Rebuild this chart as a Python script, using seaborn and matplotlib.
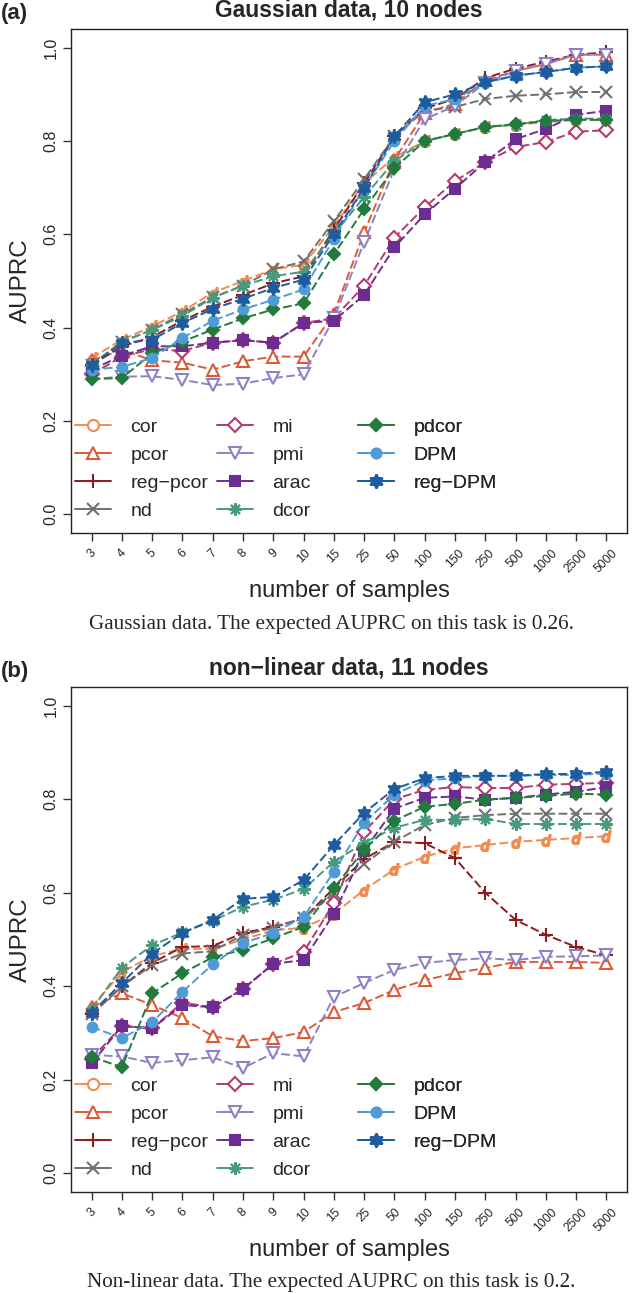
import matplotlib
matplotlib.use("Agg")
import matplotlib.pyplot as plt
import numpy as np
import pandas as pd
import seaborn as sns
from matplotlib.lines import Line2D

# ---------------- data ----------------
samples = ["3", "4", "5", "6", "7", "8", "9", "10", "15", "25", "50", "100",
           "150", "250", "500", "1000", "2500", "5000"]
methods = ["cor", "pcor", "reg\u2212pcor", "nd", "mi", "pmi", "arac", "dcor",
           "pdcor", "DPM", "reg\u2212DPM"]

# (a) Gaussian data, 10 nodes
g_cor = [0.335, 0.374, 0.403, 0.435, 0.475, 0.50, 0.525, 0.535, 0.617, 0.71, 0.765, 0.80, 0.815, 0.83, 0.835, 0.84, 0.845, 0.845]
g_pcor = [0.33, 0.352, 0.33, 0.325, 0.31, 0.328, 0.338, 0.338, 0.43, 0.604, 0.76, 0.86, 0.88, 0.93, 0.95, 0.965, 0.985, 0.985]
g_regpcor = [0.32, 0.36, 0.38, 0.415, 0.445, 0.47, 0.495, 0.51, 0.61, 0.71, 0.81, 0.87, 0.89, 0.935, 0.955, 0.97, 0.985, 0.99]
g_nd = [0.32, 0.37, 0.395, 0.43, 0.465, 0.49, 0.525, 0.542, 0.628, 0.718, 0.81, 0.865, 0.873, 0.89, 0.897, 0.90, 0.905, 0.905]
g_mi = [0.30, 0.338, 0.354, 0.35, 0.368, 0.373, 0.368, 0.41, 0.42, 0.49, 0.593, 0.658, 0.714, 0.755, 0.787, 0.798, 0.82, 0.823]
g_pmi = [0.29, 0.295, 0.296, 0.288, 0.277, 0.28, 0.292, 0.30, 0.42, 0.583, 0.74, 0.847, 0.875, 0.925, 0.95, 0.965, 0.985, 0.985]
g_arac = [0.31, 0.34, 0.36, 0.36, 0.368, 0.373, 0.368, 0.41, 0.415, 0.47, 0.572, 0.643, 0.698, 0.755, 0.804, 0.826, 0.856, 0.865]
g_dcor = [0.32, 0.37, 0.395, 0.425, 0.464, 0.49, 0.51, 0.52, 0.60, 0.68, 0.757, 0.80, 0.815, 0.83, 0.835, 0.845, 0.848, 0.848]
g_pdcor = [0.29, 0.292, 0.345, 0.37, 0.396, 0.42, 0.439, 0.452, 0.557, 0.654, 0.742, 0.80, 0.815, 0.83, 0.836, 0.843, 0.846, 0.845]
g_dpm = [0.31, 0.316, 0.335, 0.378, 0.415, 0.439, 0.46, 0.482, 0.59, 0.70, 0.80, 0.875, 0.89, 0.925, 0.94, 0.948, 0.957, 0.96]
g_regdpm = [0.32, 0.367, 0.374, 0.41, 0.44, 0.462, 0.485, 0.503, 0.60, 0.70, 0.81, 0.883, 0.90, 0.926, 0.94, 0.948, 0.957, 0.96]

# (b) non-linear data, 11 nodes
n_cor = [0.355, 0.43, 0.465, 0.48, 0.48, 0.50, 0.52, 0.525, 0.555, 0.606, 0.65, 0.677, 0.695, 0.702, 0.709, 0.713, 0.717, 0.721]
n_pcor = [0.355, 0.385, 0.36, 0.332, 0.293, 0.283, 0.289, 0.302, 0.345, 0.364, 0.392, 0.413, 0.428, 0.439, 0.452, 0.452, 0.452, 0.45]
n_regpcor = [0.34, 0.40, 0.45, 0.484, 0.486, 0.514, 0.527, 0.545, 0.61, 0.672, 0.709, 0.706, 0.674, 0.60, 0.542, 0.51, 0.484, 0.466]
n_nd = [0.34, 0.40, 0.445, 0.47, 0.475, 0.51, 0.525, 0.545, 0.60, 0.662, 0.709, 0.745, 0.76, 0.766, 0.769, 0.769, 0.769, 0.769]
n_mi = [0.245, 0.315, 0.31, 0.365, 0.355, 0.394, 0.448, 0.473, 0.578, 0.73, 0.80, 0.82, 0.826, 0.824, 0.824, 0.831, 0.833, 0.835]
n_pmi = [0.253, 0.25, 0.236, 0.242, 0.248, 0.225, 0.257, 0.25, 0.377, 0.407, 0.435, 0.45, 0.456, 0.46, 0.456, 0.463, 0.464, 0.466]
n_arac = [0.235, 0.315, 0.31, 0.36, 0.355, 0.394, 0.448, 0.456, 0.555, 0.69, 0.78, 0.803, 0.806, 0.799, 0.803, 0.81, 0.816, 0.826]
n_dcor = [0.35, 0.44, 0.488, 0.515, 0.54, 0.57, 0.585, 0.608, 0.666, 0.707, 0.739, 0.756, 0.756, 0.758, 0.747, 0.747, 0.747, 0.747]
n_pdcor = [0.249, 0.227, 0.385, 0.428, 0.462, 0.478, 0.503, 0.527, 0.61, 0.692, 0.754, 0.784, 0.79, 0.799, 0.803, 0.807, 0.812, 0.81]
n_dpm = [0.313, 0.289, 0.323, 0.388, 0.447, 0.492, 0.514, 0.548, 0.645, 0.75, 0.81, 0.84, 0.845, 0.85, 0.85, 0.852, 0.852, 0.855]
n_regdpm = [0.343, 0.407, 0.47, 0.514, 0.542, 0.587, 0.591, 0.627, 0.702, 0.771, 0.822, 0.845, 0.85, 0.85, 0.85, 0.854, 0.854, 0.859]

gauss = [g_cor, g_pcor, g_regpcor, g_nd, g_mi, g_pmi, g_arac, g_dcor, g_pdcor, g_dpm, g_regdpm]
nonlin = [n_cor, n_pcor, n_regpcor, n_nd, n_mi, n_pmi, n_arac, n_dcor, n_pdcor, n_dpm, n_regdpm]

# ---------------- styles ----------------
colors = ["#F28C4E", "#DA5B3A", "#8E1B1E", "#707070", "#B43A6E", "#8F80C6",
          "#6B2D91", "#479B7C", "#227A3C", "#4E9BD8", "#1D5C9E"]
# (marker, size, filled)
mstyle = [("$d$", 8, True), ("^", 8, False), ("+", 10, True), ("x", 8, True),
          ("D", 7, False), ("v", 8, False), ("s", 6.5, True), ((8, 2, 0), 9, True),
          ("D", 6.5, True), ("o", 7, True), ((6, 1, 0), 10, True)]
legend_markers = ["o"] + [m[0] for m in mstyle[1:]]
legend_filled = [False] + [m[2] for m in mstyle[1:]]

sns.set_style("ticks")
plt.rcParams["font.family"] = ["Liberation Sans", "DejaVu Sans"]

W, H = 634, 1294
fig = plt.figure(figsize=(W / 100, H / 100), dpi=100)


def fx(px):
    return px / W


def fy(py):
    return 1 - py / H


panels = [
    dict(data=gauss, top=29, bottom=533, letter="(a)", title="Gaussian data, 10 nodes",
         caption="Gaussian data. The expected AUPRC on this task is 0.26."),
    dict(data=nonlin, top=687, bottom=1192, letter="(b)", title="non\u2212linear data, 11 nodes",
         caption="Non-linear data. The expected AUPRC on this task is 0.2."),
]

left, right = 71, 627
pos = np.arange(len(samples))

for p in panels:
    ax = fig.add_axes([fx(left), fy(p["bottom"]), fx(right - left),
                       (p["bottom"] - p["top"]) / H])
    for i, (name, vals) in enumerate(zip(methods, p["data"])):
        df = pd.DataFrame({"pos": pos, "AUPRC": vals})
        m, ms, filled = mstyle[i]
        sns.lineplot(data=df, x="pos", y="AUPRC", ax=ax, color=colors[i],
                     linestyle=(0, (4.5, 1.8)), linewidth=1.4,
                     marker=m, markersize=ms, markeredgewidth=1.5,
                     markeredgecolor=colors[i],
                     markerfacecolor=colors[i] if filled else "white",
                     errorbar=None, zorder=2 + i)
    ax.set_xlim(-0.68, len(samples) - 1 + 0.68)
    ax.set_ylim(-0.04, 1.04)
    ax.set_xticks(pos)
    ax.set_xticklabels(samples, rotation=45, ha="center", va="top", fontsize=8.8)
    ax.set_yticks([0.0, 0.2, 0.4, 0.6, 0.8, 1.0])
    ax.set_yticklabels(["0.0", "0.2", "0.4", "0.6", "0.8", "1.0"], rotation=90,
                       va="center", fontsize=11.5)
    ax.tick_params(axis="both", length=6, width=1.0, color="#333333", pad=3)
    ax.tick_params(axis="x", pad=4)
    for s in ax.spines.values():
        s.set_linewidth(1.0)
        s.set_color("#222222")
    ax.set_xlabel("")
    ax.set_ylabel("AUPRC", fontsize=17.5, labelpad=8)

    # legend in three columns
    handles = []
    for i, name in enumerate(methods):
        handles.append(Line2D([], [], color=colors[i], linewidth=1.4,
                              marker=legend_markers[i], markersize=mstyle[i][1],
                              markeredgewidth=1.5, markeredgecolor=colors[i],
                              markerfacecolor=colors[i] if legend_filled[i] else "white",
                              label=name))
    cols = [(0, 4, 75), (4, 8, 217), (8, 11, 358)]
    height = p["bottom"] - p["top"]
    first_row_center = p["bottom"] - 108
    for a, b, xpx in cols:
        leg = ax.legend(handles=handles[a:b], loc="upper left",
                        bbox_to_anchor=((xpx - left) / (right - left),
                                        (p["bottom"] - (first_row_center - 7)) / height),
                        frameon=False, borderpad=0, handlelength=1.85,
                        handletextpad=1.0, labelspacing=0.54, fontsize=14,
                        borderaxespad=0)
        ax.add_artist(leg)

    # texts
    fig.text(fx((left + right) / 2), fy(p["top"] - 19), p["title"], ha="center",
             va="center", fontsize=16.5, fontweight="bold")
    fig.text(fx(1), fy(p["top"] - 15), p["letter"], ha="left", va="center",
             fontsize=16, fontweight="bold")
    fig.text(fx((left + right) / 2), fy(p["bottom"] + 58), "number of samples",
             ha="center", va="center", fontsize=17)
    fig.text(fx(331), fy(p["bottom"] + 91), p["caption"], ha="center", va="center",
             fontsize=15.2, family=["Liberation Serif", "DejaVu Serif"])

fig.savefig("out.png", dpi=100)
